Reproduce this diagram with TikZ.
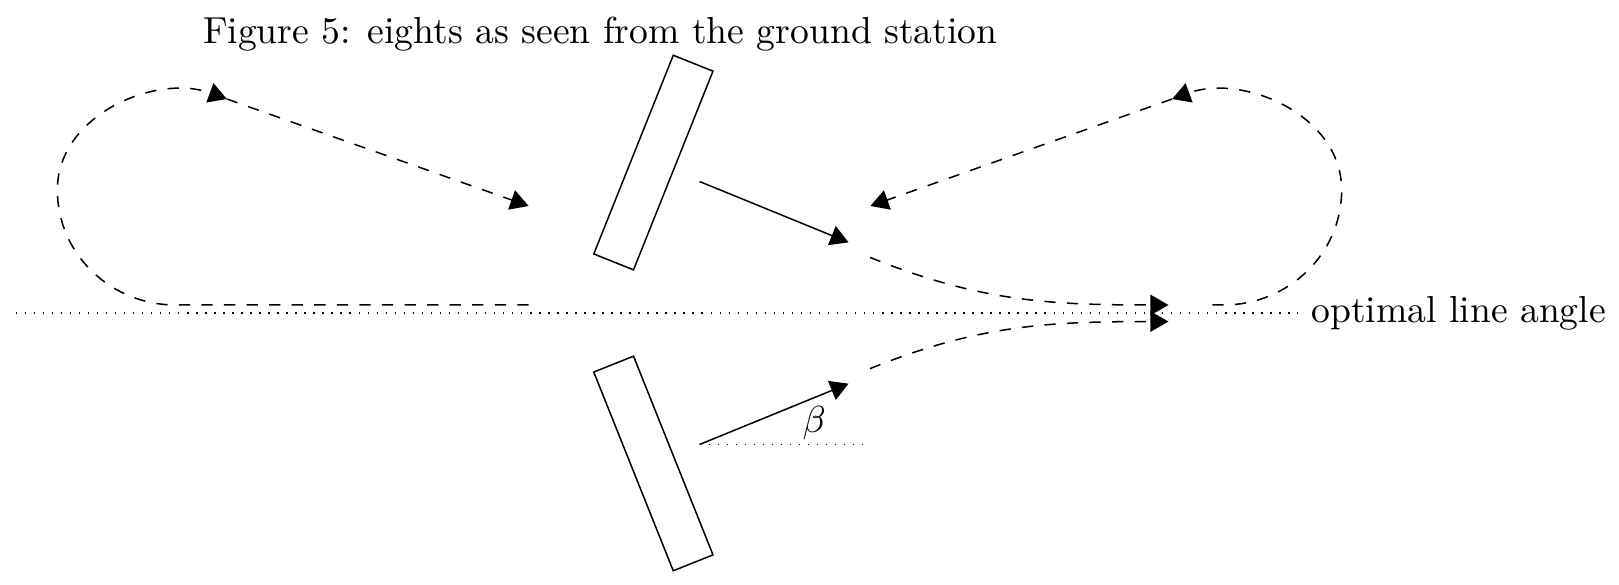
\documentclass[tikz,border=0pt]{standalone}
\usetikzlibrary{arrows.meta}
\tikzset{
  kitebox/.style={draw, minimum width=0.4cm, minimum height=2cm, inner sep=0pt},
  tri/.style={-{Triangle[length=4.8pt,width=5.4pt]}},
  flight/.style={tri, dashed}
}
\begin{document}
\begin{tikzpicture}
    \useasboundingbox (0,-2.533) rectangle (15.13,2.925);
    \node[anchor=base] (title) at (5.61,2.52) {Figure 5: eights as seen from the ground station};
    \node[anchor=west] (optimal) at (12.13,0) {optimal line angle};
    \coordinate (horizon) at (0.145,0);
    \draw[dotted] (horizon) -- (optimal.west);

    \node[kitebox, rotate=-21.8] (kite-up)   at (6.106,1.406) {};
    \node[kitebox, rotate=21.8]  (kite-down) at (6.106,-1.406) {};

    \coordinate (up-start)   at (6.537,1.229);
    \coordinate (up-end)     at (7.93,0.66);
    \coordinate (down-start) at (6.537,-1.229);
    \coordinate (down-end)   at (7.93,-0.66);
    \coordinate (beta-end)   at (8.065,-1.229);
    \node (beta) at (7.61,-1.03) {$\beta$};

    \path[tri]
    (up-start) edge (up-end)
    (down-start) edge (down-end);
    \draw[dotted] (down-start) -- (beta-end);

    % left loop
    \coordinate (l-in)     at (4.94,0.075);
    \coordinate (l-bottom) at (1.64,0.075);
    \coordinate (l-far)    at (0.536,1.15);
    \coordinate (l-top)    at (2.12,2.0);
    \coordinate (l-out)    at (4.94,1.0);
    % right loop
    \coordinate (r-start)  at (11.33,0.075);
    \coordinate (r-bottom) at (11.434,0.075);
    \coordinate (r-far)    at (12.538,1.15);
    \coordinate (r-top)    at (10.954,2.0);
    \coordinate (r-out)    at (8.134,1.0);
    % tracks behind the kites
    \coordinate (up-curve)   at (8.13,0.52);
    \coordinate (up-meet)    at (10.92,0.075);
    \coordinate (down-curve) at (8.13,-0.52);
    \coordinate (down-meet)  at (10.92,-0.08);

    \draw[flight] (l-in) -- (l-bottom) to[out=180,in=-90] (l-far) to[out=90,in=160] (l-top);
    \draw[flight] (r-start) -- (r-bottom) to[out=0,in=-90] (r-far) to[out=90,in=20] (r-top);
    \path[flight]
    (l-top) edge (l-out)
    (r-top) edge (r-out)
    (up-curve) edge[out=-22,in=180] (up-meet)
    (down-curve) edge[out=22,in=180] (down-meet);
\end{tikzpicture}
\end{document}
